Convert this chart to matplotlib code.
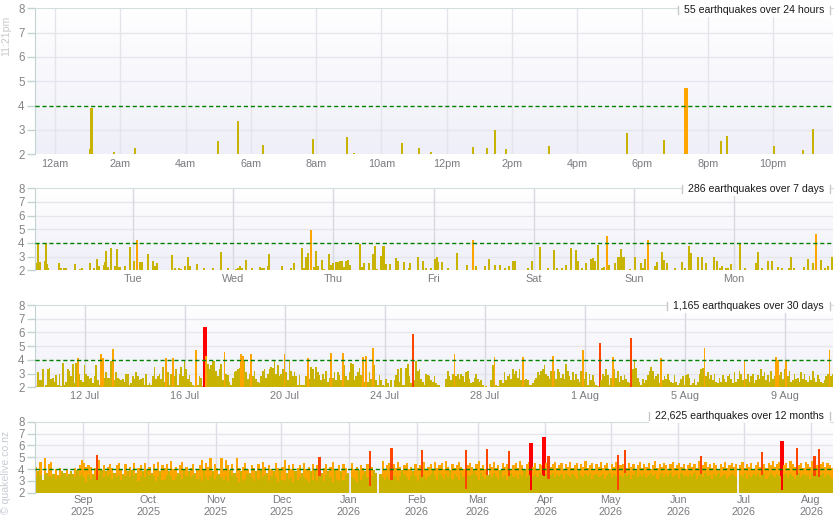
import datetime as dt
import matplotlib
matplotlib.use("Agg")
import matplotlib.pyplot as plt
import matplotlib.dates as mdates
from matplotlib.colors import LinearSegmentedColormap
from matplotlib.lines import Line2D
from matplotlib.patches import Rectangle
import numpy as np

plt.rcParams['font.family'] = ['Liberation Sans', 'DejaVu Sans']

# ---------------- 24 hours (hours after midnight, magnitude)
day_hours = [1.07, 1.12, 1.81, 2.45, 4.99, 5.61, 6.37, 7.90, 8.95, 9.16, 10.63, 11.15, 11.52,
             12.81, 13.24, 13.48, 13.82, 15.14, 17.52, 18.66, 19.33, 20.40, 20.59, 22.03, 22.92, 23.22]
day_mags = [2.22, 3.92, 2.10, 2.26, 2.55, 3.37, 2.38, 2.63, 2.71, 2.05, 2.47, 2.26, 2.10,
            2.30, 2.26, 3.00, 2.22, 2.34, 2.88, 2.59, 4.73, 2.55, 2.75, 2.34, 2.18, 3.04]
day_ticks = [0, 2, 4, 6, 8, 10, 12, 14, 16, 18, 20, 22]
day_labels = ['12am', '2am', '4am', '6am', '8am', '10am', '12pm', '2pm', '4pm', '6pm', '8pm', '10pm']

# ---------------- 7 days (days after Tuesday 00:00, magnitude)
week_days = [-0.97, -0.95, -0.94, -0.93, -0.88, -0.87, -0.86, -0.85, -0.74, -0.72,
             -0.69, -0.67, -0.60, -0.58, -0.53, -0.51, -0.43, -0.39, -0.36, -0.34,
             -0.29, -0.28, -0.27, -0.25, -0.22, -0.18, -0.16, -0.145, -0.13, -0.08,
             -0.03, 0.01, 0.04, 0.07, 0.09, 0.15, 0.20, 0.22, 0.24, 0.39,
             0.42, 0.46, 0.48, 0.52, 0.55, 0.57, 0.64, 0.71, 0.80, 0.88,
             0.95, 1.03, 1.05, 1.07, 1.09, 1.13, 1.19, 1.27, 1.29, 1.31,
             1.35, 1.36, 1.49, 1.58, 1.61, 1.69, 1.71, 1.73, 1.75, 1.78,
             1.81, 1.83, 1.85, 1.89, 1.91, 1.96, 1.98, 2.00, 2.03, 2.05,
             2.07, 2.09, 2.11, 2.13, 2.15, 2.17, 2.255, 2.265, 2.29, 2.31,
             2.36, 2.40, 2.42, 2.44, 2.48, 2.50, 2.52, 2.56, 2.62, 2.64,
             2.70, 2.75, 2.76, 2.84, 2.89, 2.92, 2.97, 3.01, 3.03, 3.045,
             3.08, 3.14, 3.23, 3.24, 3.33, 3.39, 3.42, 3.51, 3.55, 3.61,
             3.66, 3.71, 3.75, 3.79, 3.81, 3.94, 3.98, 4.06, 4.14, 4.20,
             4.23, 4.28, 4.32, 4.37, 4.42, 4.44, 4.48, 4.52, 4.57, 4.59,
             4.61, 4.64, 4.68, 4.70, 4.73, 4.75, 4.81, 4.84, 4.855, 4.87,
             4.885, 4.90, 4.96, 5.01, 5.07, 5.09, 5.11, 5.14, 5.21, 5.23,
             5.28, 5.30, 5.33, 5.41, 5.48, 5.51, 5.55, 5.57, 5.64, 5.68,
             5.72, 5.80, 5.83, 5.86, 5.88, 5.92, 5.94, 5.97, 6.06, 6.11,
             6.22, 6.24, 6.28, 6.34, 6.38, 6.44, 6.48, 6.55, 6.57, 6.60,
             6.70, 6.74, 6.79, 6.82, 6.87, 6.91, 6.94, 6.98]
week_mags = [2.55, 3.95, 2.6, 2.6, 2.65, 3.97, 2.45, 2.2, 2.5, 2.2,
             2.15, 2.15, 2.05, 2.45, 2.1, 2.15, 2.5, 2.2, 2.8, 2.35,
             2.4, 2.6, 3.4, 2.25, 3.6, 2.3, 3.55, 2.25, 2.25, 2.35,
             3.7, 2.7, 4.2, 2.6, 2.6, 3.2, 2.65, 2.3, 2.5, 3.1,
             2.2, 2.15, 2.1, 2.35, 3.0, 2.35, 2.45, 2.15, 2.15, 3.35,
             2.15, 2.1, 2.2, 2.3, 2.15, 2.75, 2.15, 2.25, 2.2, 2.2,
             2.35, 3.2, 2.3, 2.15, 2.5, 3.65, 2.15, 2.95, 3.25, 4.98,
             2.25, 3.4, 2.35, 2.75, 2.1, 3.2, 2.4, 2.55, 2.6, 2.6,
             2.65, 2.65, 2.25, 2.65, 2.75, 2.4, 2.05, 3.95, 2.25, 2.5,
             2.5, 3.2, 3.8, 2.1, 3.05, 3.8, 2.45, 2.45, 2.9, 2.65,
             2.6, 2.15, 2.5, 2.95, 2.65, 2.2, 2.2, 2.8, 2.95, 2.6,
             2.6, 2.2, 3.3, 2.05, 2.4, 4.2, 2.35, 2.3, 2.8, 2.4,
             2.4, 2.2, 2.3, 2.7, 2.7, 2.2, 2.7, 3.7, 2.15, 3.45,
             2.15, 2.15, 2.4, 3.6, 3.45, 2.7, 2.2, 2.5, 2.85, 2.9,
             2.7, 3.85, 2.2, 2.25, 4.5, 2.4, 2.5, 2.95, 2.95, 3.55,
             2.95, 3.0, 2.1, 2.95, 2.5, 2.15, 2.8, 4.2, 2.35, 2.6,
             3.35, 2.75, 2.55, 2.2, 2.6, 2.2, 3.8, 3.3, 2.95, 2.95,
             2.55, 3.0, 2.65, 2.2, 2.35, 2.15, 2.2, 2.45, 3.98, 2.15,
             2.55, 3.35, 2.2, 2.65, 2.7, 2.25, 2.15, 2.2, 2.95, 2.2,
             2.25, 2.85, 2.55, 4.66, 2.75, 2.2, 2.3, 3.0]
week_labels = ['Tue', 'Wed', 'Thu', 'Fri', 'Sat', 'Sun', 'Mon']

# ---------------- 30 days: largest quake per 1.6 h bin (tenths), from 10 Jul
month_start = 10.05
month_step = 1 / 15
month_mags = [21, 31, 25, 25, 33, 20, 22, 33, 34, 26, 27, 24, 29,
              22, 30, 21, 38, 22, 24, 33, 32, 28, 37, 23, 38, 41, 30, 25,
              24, 36, 30, 28, 26, 27, 23, 28, 36, 25, 22, 44, 41, 27, 31, 27, 27, 39, 48, 25, 31,
              27, 26, 25, 26, 24, 30, 30, 22, 23, 28, 26, 31, 28, 25, 26, 27, 22, 30, 22, 23,
              22, 28, 35, 26, 28, 30, 26, 35, 24,
              41, 31, 22, 30, 41, 28, 33, 22, 30, 35, 28, 39, 33, 26, 29, 24, 22, 21, 47, 22,
              28, 27, 21, 64, 43, 37, 33, 36, 39, 39, 32, 28, 33, 37, 25, 46, 30, 29, 24, 22,
              27, 31, 32, 33, 34, 44, 43, 39, 31, 26, 30, 44, 28, 32, 26, 24, 23, 28, 32, 33,
              27, 30, 33, 35, 34, 39, 30, 36, 28, 30, 33, 44, 31, 25, 39, 32, 28, 31, 28, 22,
              29, 22, 22, 22, 28, 41, 26, 35, 33, 26, 35, 31, 29, 25, 30, 26, 32, 24, 27, 45, 27,
              31, 25, 31, 29, 25, 45, 36, 28, 25, 31, 38, 37, 25, 28, 31, 34, 29, 42, 24, 43,
              24, 31, 26, 49, 36, 25, 22, 29, 25, 22, 21, 26, 23, 20, 25, 20, 25, 29, 33, 24,
              34, 22, 22, 34, 37, 28, 23, 59, 25, 39, 32, 33,
              26, 24, 22, 30, 29, 28, 25, 24, 28, 23, 22, 22, 20, 20, 20, 26, 32, 28, 25, 30,
              44, 28, 30, 26, 30, 28, 24, 31, 32, 26, 23, 24, 27, 30, 26, 24, 25, 22, 20, 21,
              20, 20, 25, 36, 42, 22, 21, 25, 25, 23, 31, 25, 28, 30, 26, 33, 30, 32, 27, 33,
              25, 42, 25, 26, 25, 22, 22, 23, 25, 27, 31, 29, 32, 33, 36, 30, 28, 26, 32, 43,
              32, 26, 33, 31, 27, 30, 26, 37, 32, 28, 25, 31, 25, 30, 26, 24, 32, 47, 26, 31,
              22, 30, 25, 29, 24, 22, 21, 52, 25, 30, 28, 33, 29, 22, 27, 42, 33, 27, 32, 24,
              28, 25, 29, 26, 24, 23, 56, 33, 39, 34, 27, 24, 22, 26, 23, 25, 29, 32, 35, 32,
              26, 28, 30, 23, 41, 25, 28, 26, 30, 25, 24, 23, 29, 24, 22, 23, 26, 28, 22, 29,
              30, 27, 22, 23, 26, 22, 24, 30, 33, 34, 49, 28, 31, 26, 29, 25, 30, 24, 23, 27,
              24, 29, 26, 24, 28, 30, 26, 23, 31, 24, 26, 32, 30, 25, 40, 26, 30, 24, 28, 30,
              23, 25, 29, 26, 33, 28, 31, 25, 29, 24, 32, 26, 28, 42, 40, 29, 31, 26, 33, 40,
              28, 32, 24, 25, 30, 26, 27, 24, 31, 26, 30, 25, 24, 28, 25, 32, 27, 24, 29, 26,
              24, 23, 25, 28, 30, 47, 28, 30]
month_ticks = [12, 16, 20, 24, 28, 32, 36, 40]
month_labels = ['12 Jul', '16 Jul', '20 Jul', '24 Jul', '28 Jul', '1 Aug', '5 Aug', '9 Aug']

# ---------------- 12 months: one value per day from 10 Aug 2025 (tenths)
year_start = dt.date(2025, 8, 10)
year_max = [42, 38, 46, 31, 49, 37, 44, 46, 36, 40, 35, 41, 38, 37, 40, 36, 38, 36, 41, 39,
            43, 48, 45, 42, 43, 42, 36, 41, 52, 48, 39, 43, 38, 42, 44, 41, 37, 43, 45, 40,
            36, 44, 38, 42, 39, 45, 37, 41, 43, 38, 45, 39, 42, 37, 44, 40, 46, 38, 43, 41,
            44, 38, 47, 40, 42, 37, 43, 46, 39, 42, 38, 41, 44, 37, 40, 43, 48, 39, 45, 42,
            49, 38, 44, 41, 36, 49, 40, 48, 43, 39, 44, 37, 49, 41, 38, 42, 45, 40, 37, 43,
            41, 38, 44, 39, 46, 42, 37, 43, 40, 38, 45, 41, 39, 42, 48, 37, 43, 40, 44, 38,
            41, 43, 37, 45, 40, 42, 38, 44, 39, 43, 50, 37, 41, 44, 38, 42, 46, 39, 40, 43,
            38, 44, 41, 37, 0, 45, 40, 42, 39, 43, 41, 38, 44, 55, 42, 39, 37, 0, 36, 47,
            40, 43, 45, 58, 44, 41, 46, 42, 39, 43, 45, 40, 42, 38, 44, 41, 43, 56, 46, 40,
            42, 44, 39, 46, 41, 43, 45, 40, 47, 42, 39, 44, 41, 43, 46, 42, 40, 56, 43, 45,
            42, 39, 44, 47, 41, 43, 40, 57, 44, 42, 46, 41, 43, 39, 45, 42, 44, 55, 40, 43,
            45, 41, 47, 43, 39, 44, 46, 62, 42, 45, 40, 44, 43, 67, 45, 51, 42, 44, 46, 41,
            43, 45, 40, 44, 42, 46, 41, 43, 45, 39, 44, 42, 47, 41, 43, 45, 40, 44, 42, 46,
            41, 43, 45, 40, 44, 42, 46, 52, 43, 44, 56, 41, 45, 42, 44, 40, 43, 46, 41, 44,
            42, 45, 40, 43, 47, 41, 44, 42, 45, 43, 40, 44, 46, 41, 43, 45, 42, 44, 40, 43,
            45, 42, 44, 41, 47, 51, 43, 46, 42, 44, 41, 45, 43, 40, 44, 42, 46, 41, 43, 45,
            42, 44, 0, 43, 46, 41, 44, 42, 45, 40, 43, 46, 42, 54, 44, 41, 45, 43, 47, 42,
            44, 46, 64, 43, 45, 41, 47, 44, 42, 58, 43, 45, 41, 46, 44, 42, 47, 51, 43, 57,
            44, 46, 42, 45, 43, 41]
year_base = [33, 30, 35, 29, 36, 31, 34, 33, 30, 32, 29, 33, 31, 30, 34, 28, 32, 31, 33, 30,
             34, 36, 33, 29, 35, 32, 30, 34, 31, 35, 30, 33, 29, 34, 36, 32, 28, 33, 35, 31,
             30, 34, 31, 33, 29, 35, 32, 30, 34, 31, 33, 29, 35, 31, 34, 30, 33, 36, 31, 32,
             35, 30, 34, 31, 33, 29, 36, 32, 30, 34, 31, 33, 35, 29, 32, 34, 30, 36, 33, 31,
             34, 30, 32, 35, 29, 33, 31, 34, 30, 32, 35, 31, 33, 29, 34, 30, 32, 36, 31, 33,
             30, 34, 32, 29, 33, 35, 31, 30, 34, 32, 33, 29, 35, 31, 30, 34, 32, 33, 29, 35,
             31, 33, 30, 34, 32, 29, 35, 31, 33, 30, 34, 32, 30, 35, 31, 33, 29, 34, 32, 30,
             33, 31, 35, 30, 0, 34, 32, 29, 33, 31, 35, 30, 33, 26, 34, 32, 30, 0, 29, 33,
             31, 34, 32, 31, 35, 33, 30, 34, 32, 36, 33, 31, 35, 32, 34, 30, 36, 33, 35, 32,
             34, 36, 33, 35, 31, 37, 34, 32, 36, 33, 35, 32, 36, 34, 31, 37, 33, 23, 35, 34,
             36, 33, 35, 31, 37, 34, 32, 35, 36, 33, 37, 34, 32, 36, 33, 35, 31, 34, 37, 33,
             35, 32, 36, 34, 37, 33, 35, 22, 34, 36, 33, 37, 35, 34, 36, 32, 35, 37, 33, 36,
             34, 36, 32, 37, 35, 33, 36, 34, 32, 37, 35, 33, 36, 34, 37, 32, 35, 36, 33, 34,
             36, 32, 35, 37, 33, 36, 34, 22, 35, 33, 37, 34, 36, 32, 35, 38, 33, 36, 34, 37,
             33, 35, 37, 34, 36, 32, 35, 37, 33, 36, 34, 37, 33, 35, 36, 32, 37, 34, 35, 33,
             36, 34, 37, 32, 35, 36, 33, 37, 34, 35, 32, 36, 34, 37, 33, 35, 36, 32, 34, 37,
             35, 33, 0, 36, 34, 37, 32, 35, 33, 36, 34, 37, 33, 35, 36, 32, 34, 37, 35, 33,
             36, 34, 22, 35, 37, 33, 36, 34, 32, 35, 37, 33, 36, 34, 35, 32, 37, 34, 36, 33,
             35, 37, 33, 36, 34, 32]
year_ticks = [dt.date(2025, m, 1) for m in range(9, 13)] + [dt.date(2026, m, 1) for m in range(1, 9)]

titles = ['55 earthquakes over 24 hours', '286 earthquakes over 7 days',
          '1,165 earthquakes over 30 days', '22,625 earthquakes over 12 months']

YELLOW = '#c8b400'


def mag_color(m):
    if m >= 6:
        return '#ff0000'
    if m >= 5:
        return '#ff4500'
    if m >= 4:
        return '#ffa500'
    return YELLOW


W, H = 835, 530
fig = plt.figure(figsize=(W / 100, H / 100), dpi=100)
bg = LinearSegmentedColormap.from_list('bg', ['#efeff9', '#ffffff'])
grad = np.linspace(0, 1, 64).reshape(-1, 1)

# panel boxes in pixels: (top, bottom)
boxes = [(8.3, 154.3), (188.3, 270.3), (305, 387.3), (421.7, 492.7)]
title_y = [9.7, 189.3, 306, 415.7]
axes = []
for top, bot in boxes:
    axes.append(fig.add_axes([35 / W, 1 - bot / H, 798 / W, (bot - top) / H]))


def style(ax, xlim, ticks, labels, vcolor, pad=3.5):
    ax.imshow(grad, extent=[xlim[0], xlim[1], 2, 8], aspect='auto', cmap=bg,
              origin='lower', zorder=0, interpolation='bilinear')
    ax.set_xlim(*xlim)
    ax.set_ylim(2, 8)
    ax.set_yticks(range(2, 9))
    for y in (3, 5, 6, 7):
        ax.axhline(y, color='#e6e6ee', lw=1, zorder=1)
    for x in ticks:
        ax.axvline(x, color=vcolor, lw=1, zorder=1)
    ax.axhline(4, color='#008000', lw=1, ls=(0, (3, 2)), zorder=4)
    ax.set_xticks(ticks)
    ax.set_xticklabels(labels)
    ax.tick_params(axis='y', length=6, width=1, color='#c4d2d2', labelcolor='#858585',
                   labelsize=8.3, pad=1.5)
    ax.tick_params(axis='x', length=0, labelcolor='#7a7a80', labelsize=7.8, pad=pad)
    for s in ('right', 'bottom'):
        ax.spines[s].set_visible(False)
    ax.spines['left'].set_color('#c4d2d2')
    ax.spines['top'].set_color('#d4dede')


# 24 hours
ax = axes[0]
style(ax, (-0.613, 23.84), day_ticks, day_labels, '#e4e4ea')
ax.bar(day_hours, [m - 2 for m in day_mags], bottom=2,
       width=[0.12 if m >= 4.5 else 0.065 for m in day_mags],
       color=[mag_color(m) for m in day_mags], linewidth=0, zorder=2)

# 7 days
ax = axes[1]
style(ax, (-0.978, 6.986), list(range(7)), week_labels, '#d8d8e0', pad=2.5)
ax.bar(week_days, [m - 2 for m in week_mags], bottom=2, width=0.02,
       color=[mag_color(m) for m in week_mags], linewidth=0, zorder=2)

# 30 days
ax = axes[2]
style(ax, (10, 41.92), month_ticks, month_labels, '#d8d8e0', pad=2.5)
mm = np.array(month_mags) / 10
mx = month_start + np.arange(len(mm)) * month_step
keep = mm > 2
ax.bar(mx[keep], mm[keep] - 2, bottom=2,
       width=[0.16 if m >= 6 else (0.08 if m >= 5 else month_step) for m in mm[keep]],
       color=[mag_color(m) for m in mm[keep]], linewidth=0, zorder=2)

# 12 months
ax = axes[3]
x0 = mdates.date2num(year_start)
yt = [mdates.date2num(d) for d in year_ticks]
style(ax, (x0, x0 + 366), yt, [d.strftime('%b\n%Y') for d in year_ticks], '#dedee6', pad=2.0)
n = min(len(year_max), len(year_base))
peaks = np.array(year_max[:n]) / 10
base = np.minimum(np.array(year_base[:n]) / 10, peaks)
yx = x0 + np.arange(n) + 0.5
keep = peaks > 2
ax.bar(yx[keep], peaks[keep] - 2, bottom=2,
       width=[1.8 if m >= 6 else (0.95 if m >= 5 else 1.0) for m in peaks[keep]],
       color=[mag_color(m) for m in peaks[keep]], linewidth=0, zorder=2)
keep = base > 2
ax.bar(yx[keep], base[keep] - 2, bottom=2, width=1.0, color=YELLOW, linewidth=0, zorder=2.5)
for lab in ax.get_xticklabels():
    lab.set_linespacing(1.15)

# titles with white box and end marks
texts = []
for t, y in zip(titles, title_y):
    texts.append(fig.text(824 / W, 1 - y / H, t, ha='right', va='center',
                          fontsize=7.6, color='#1a1a1a', zorder=6))
fig.canvas.draw()
r = fig.canvas.get_renderer()
for t, y in zip(texts, title_y):
    bb = t.get_window_extent(r)
    left, right = bb.x0 - 6, bb.x1 + 6
    yc = H - y
    fig.add_artist(Rectangle((left / W, (yc - 7) / H), (right - left) / W, 14 / H,
                             transform=fig.transFigure, fc='white', ec='none', zorder=5))
    for xe in (left, right):
        fig.add_artist(Line2D([xe / W, xe / W], [(yc - 4) / H, (yc + 4) / H],
                              transform=fig.transFigure, color='#c8c8c8', lw=1, zorder=6))

fig.text(6 / W, 1 - 36 / H, '11:21pm', rotation=90, ha='center', va='center',
         fontsize=7.6, color='#c8c8cc')
fig.text(6 / W, 1 - 472 / H, '© quakelive.co.nz', rotation=90, ha='center', va='center',
         fontsize=7.6, color='#c8ccd4')

fig.savefig('out.png', dpi=100)
